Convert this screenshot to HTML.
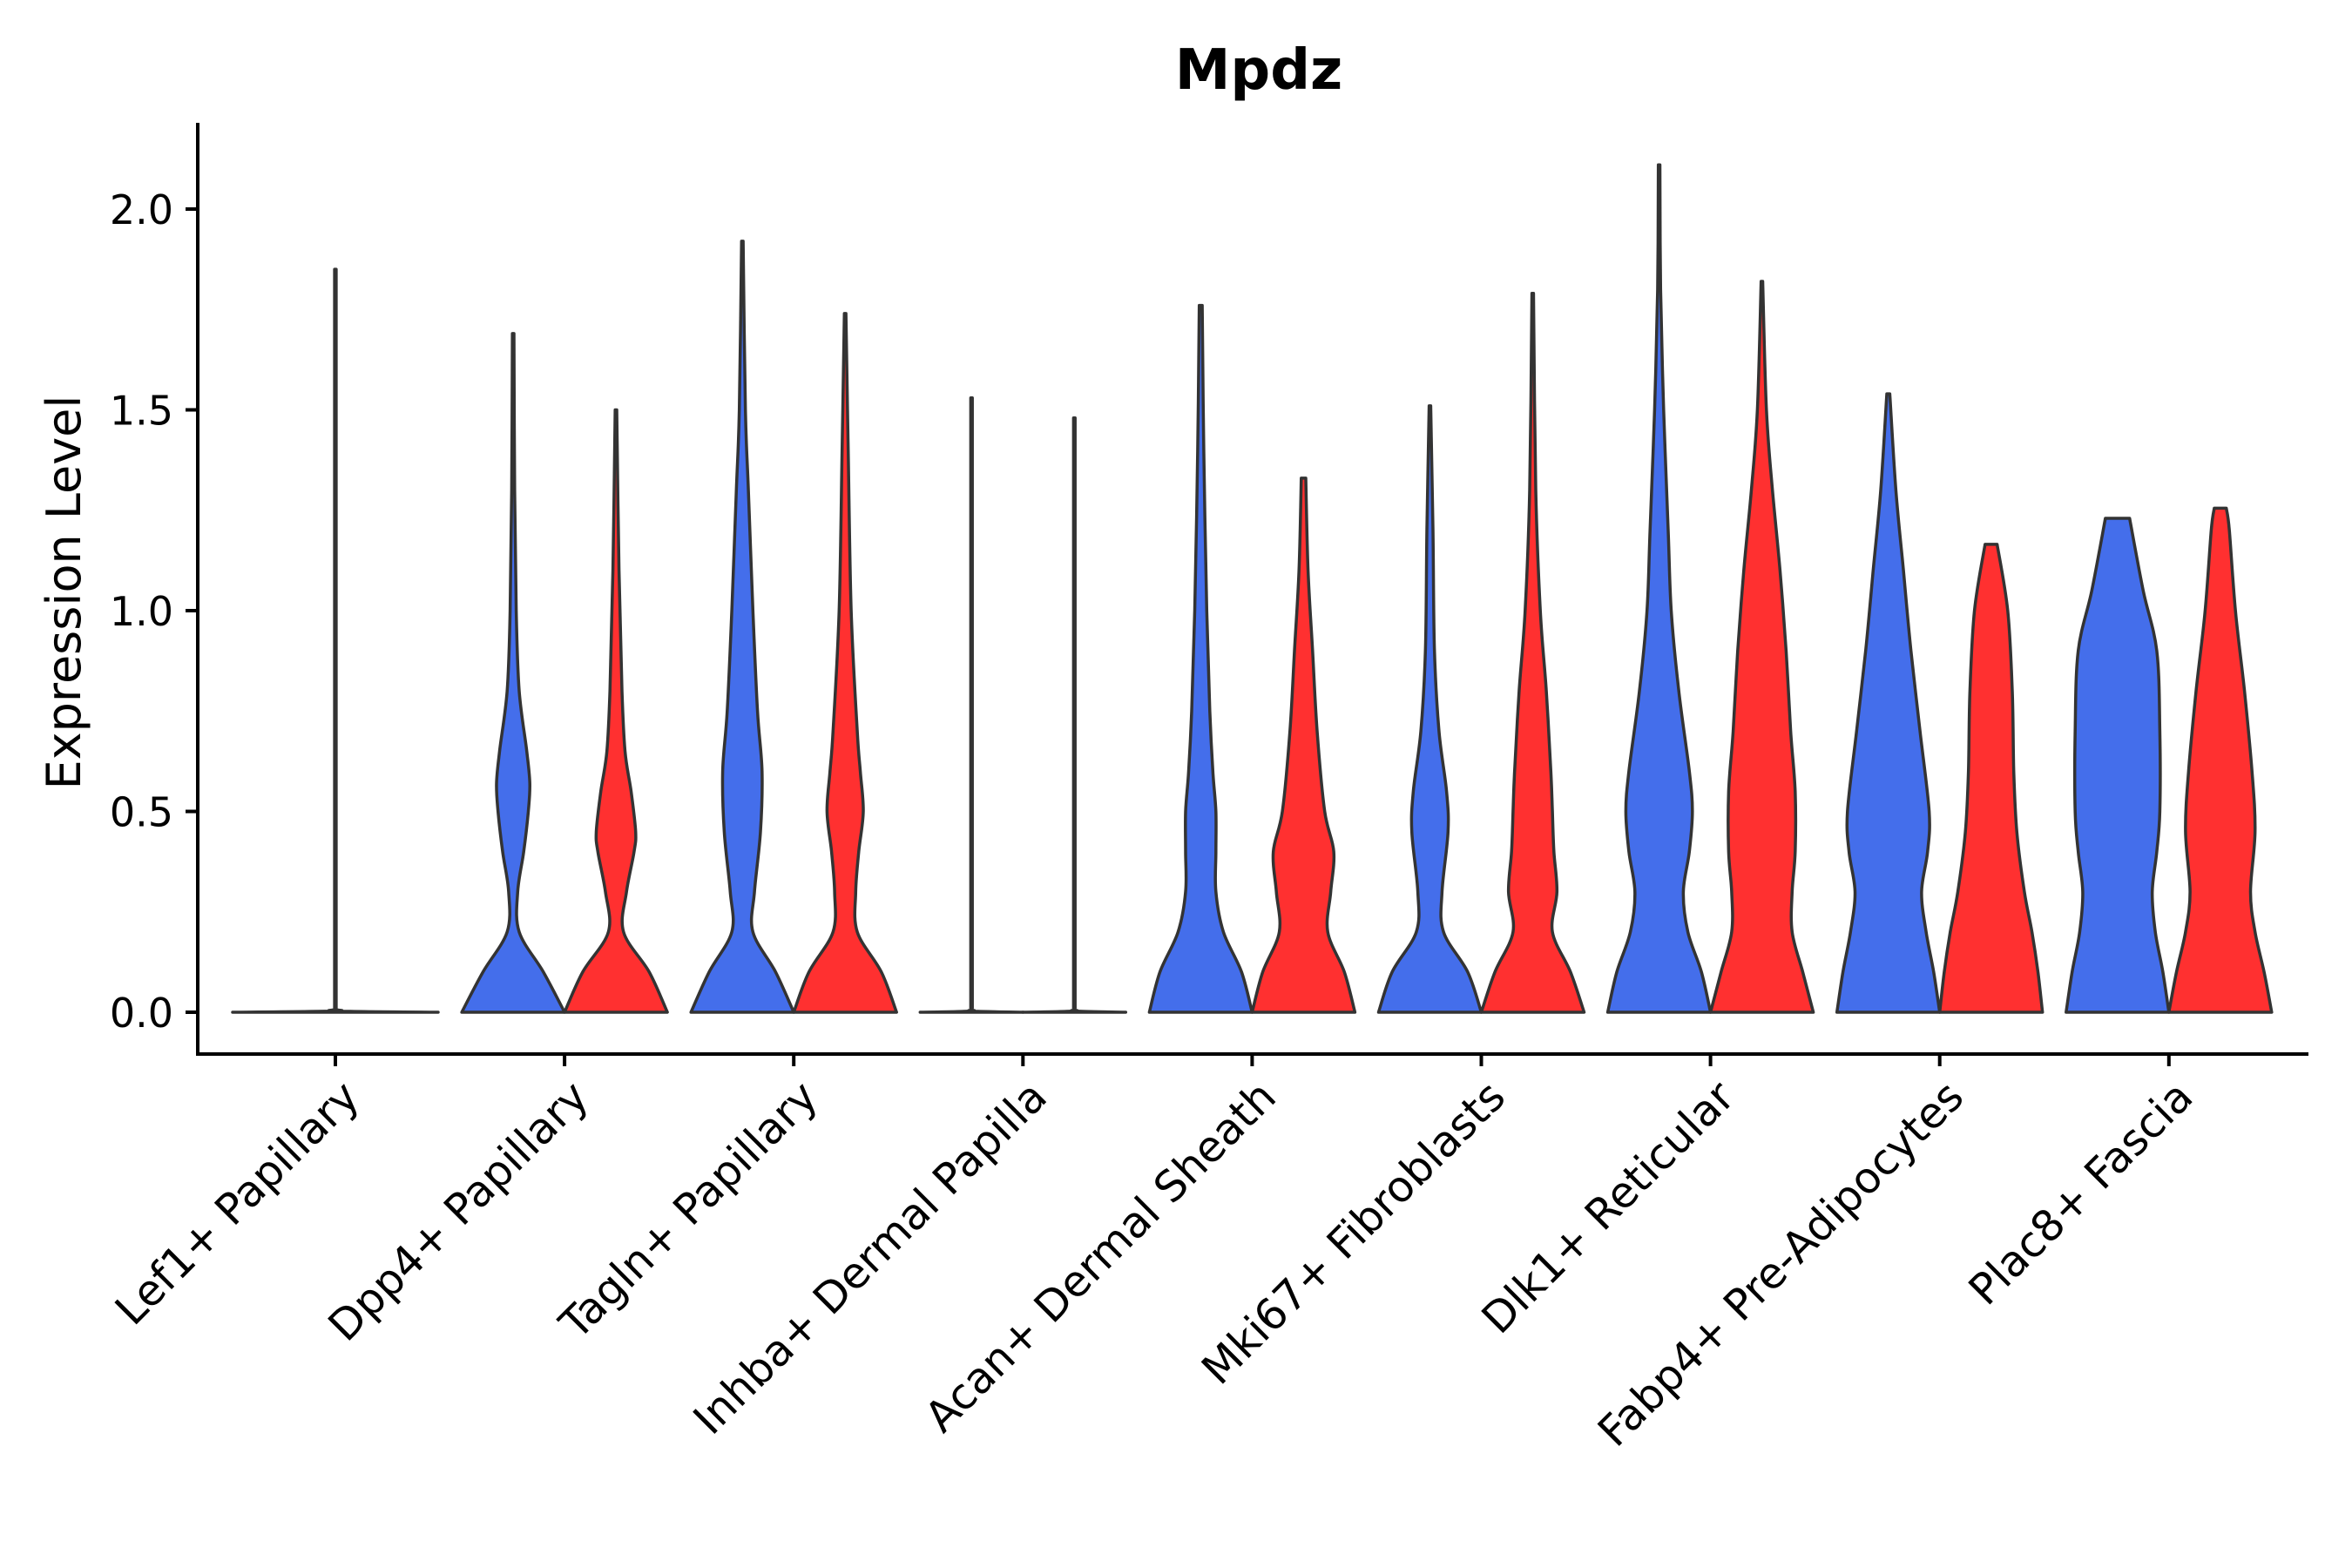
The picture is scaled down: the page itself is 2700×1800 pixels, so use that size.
<!DOCTYPE html>
<html><head><meta charset="utf-8"><style>
html,body{margin:0;padding:0;background:#fff;}
svg{display:block;font-family:"DejaVu Sans","Liberation Sans",sans-serif;}
</style></head><body>
<svg id="chart" width="2700" height="1800" viewBox="0 0 2700 1800" xmlns="http://www.w3.org/2000/svg">
<text x="1445" y="102" text-anchor="middle" font-size="64" font-weight="bold" fill="#000">Mpdz</text>
<text transform="translate(92,680) rotate(-90)" text-anchor="middle" font-size="54" fill="#000">Expression Level</text>
<g id="marks"></g>
<g id="axes"></g>
</svg>
<script>
const categories = ["Lef1+ Papillary","Dpp4+ Papillary","Tagln+ Papillary","Inhba+ Dermal Papilla","Acan+ Dermal Sheath","Mki67+ Fibroblasts","Dlk1+ Reticular","Fabp4+ Pre-Adipocytes","Plac8+ Fascia"];
const yTicks = [0, 0.5, 1.0, 1.5, 2.0];
const yTickLabels = ["0.0","0.5","1.0","1.5","2.0"];
// density profiles: [expression level, relative half-width (max 34)]
const blueProfiles = [
  null,
  [[0,34],[0.1,20],[0.2,4],[0.3,3],[0.4,7],[0.5,10],[0.57,11],[0.65,9],[0.8,4],[1.0,2],[1.3,1],[1.69,0.5]],
  [[0,34],[0.1,22],[0.2,7],[0.3,8],[0.45,12],[0.6,13],[0.75,10],[1.0,7],[1.3,4],[1.5,2],[1.92,0.5]],
  [[0,34],[0.003,0.5],[0.01,0.5],[1.52,0.5],[1.53,0.5]],
  [[0,34],[0.1,27],[0.2,15],[0.3,10],[0.4,10],[0.5,10],[0.6,8],[0.75,6],[1.0,4],[1.4,2],[1.76,1]],
  [[0,34],[0.1,25],[0.2,9],[0.3,8],[0.45,12],[0.55,11],[0.7,6],[0.9,3],[1.2,2],[1.51,0.5]],
  [[0,34],[0.1,28],[0.2,19],[0.3,16],[0.4,20],[0.5,22],[0.6,20],[0.8,13],[1.0,8],[1.2,6],[1.5,3],[1.8,1],[2.11,0.5]],
  [[0,34],[0.1,30],[0.2,25],[0.3,22],[0.4,26],[0.5,27],[0.7,21],[0.9,15],[1.1,10],[1.3,5],[1.54,1]],
  [[0,34],[0.1,30],[0.2,25],[0.3,23],[0.4,26],[0.5,28],[0.7,28],[0.9,26],[1.05,17],[1.23,8]]
];
const redProfiles = [
  null,
  [[0,34],[0.1,22],[0.2,5],[0.3,7],[0.4,12],[0.45,13],[0.55,10],[0.65,6],[0.8,4],[1.1,2],[1.5,0.5]],
  [[0,34],[0.1,24],[0.2,8],[0.3,7],[0.4,9],[0.5,12],[0.6,10],[0.7,8],[1.0,4],[1.4,2],[1.74,0.5]],
  [[0,34],[0.003,0.5],[0.01,0.5],[1.47,0.5],[1.48,0.5]],
  [[0,34],[0.1,27],[0.2,16],[0.3,18],[0.4,20],[0.5,14],[0.7,9],[0.9,6],[1.1,3],[1.33,1.5]],
  [[0,34],[0.1,25],[0.2,13],[0.3,16],[0.4,14],[0.5,13],[0.6,12],[0.8,9],[1.0,5],[1.3,2],[1.79,0.5]],
  [[0,34],[0.1,27],[0.2,20],[0.3,20],[0.4,22],[0.55,22],[0.7,19],[0.9,16],[1.1,12],[1.3,7],[1.5,3],[1.82,0.5]],
  [[0,34],[0.1,31],[0.2,27],[0.3,22],[0.45,17],[0.6,15],[0.8,14],[1.0,11],[1.165,4]],
  [[0,34],[0.1,29],[0.2,23],[0.3,20],[0.45,23],[0.6,21],[0.8,16],[1.0,10],[1.2,6],[1.255,4]]
];
const singleProfiles = [
  [[0,68],[0.003,0.5],[0.01,0.5],[1.84,0.5],[1.85,0.5]],
  null,null,null,null,null,null,null,null
];

const NS = "http://www.w3.org/2000/svg";
const X0 = 227, X1 = 2650, Y_AXIS = 1210;
const yScale = v => 1162 - v * 461;
const xScale = i => 385 + i * 263.1;
const wScale = w => w / 34 * 59;
const OFF = 59;

function violinPath(cx, prof) {
  const left = prof.map(p => [cx - wScale(p[1]), yScale(p[0])]);
  const right = prof.slice().reverse().map(p => [cx + wScale(p[1]), yScale(p[0])]);
  function clampY(y, a, b) { const lo = Math.min(a, b), hi = Math.max(a, b); return Math.max(lo, Math.min(hi, y)); }
  function clampX(x, a, b) { const lo = Math.min(a, b), hi = Math.max(a, b); return Math.max(lo, Math.min(hi, x)); }
  function seg(arr) {
    let d = "";
    for (let i = 0; i < arr.length - 1; i++) {
      const p0 = arr[Math.max(0, i - 1)], p1 = arr[i], p2 = arr[i + 1], p3 = arr[Math.min(arr.length - 1, i + 2)];
      let c1 = [p1[0] + (p2[0] - p0[0]) / 6, clampY(p1[1] + (p2[1] - p0[1]) / 6, p1[1], p2[1])];
      let c2 = [p2[0] - (p3[0] - p1[0]) / 6, clampY(p2[1] - (p3[1] - p1[1]) / 6, p1[1], p2[1])];
      const big = Math.abs(p2[0] - p1[0]) > 40 && Math.abs(p2[1] - p1[1]) < 5;
      if (big) { c1 = [clampX(c1[0], p1[0], p2[0]), c1[1]]; c2 = [clampX(c2[0], p1[0], p2[0]), c2[1]]; }
      d += ` C${c1[0].toFixed(1)},${c1[1].toFixed(1)} ${c2[0].toFixed(1)},${c2[1].toFixed(1)} ${p2[0].toFixed(1)},${p2[1].toFixed(1)}`;
    }
    return d;
  }
  let d = `M${left[0][0].toFixed(1)},${left[0][1].toFixed(1)}` + seg(left);
  d += ` L${right[0][0].toFixed(1)},${right[0][1].toFixed(1)}` + seg(right) + " Z";
  return d;
}

const marks = document.getElementById("marks");
function addViolin(cx, prof, fill, name) {
  const p = document.createElementNS(NS, "path");
  p.setAttribute("d", violinPath(cx, prof));
  p.setAttribute("fill", fill);
  p.setAttribute("stroke", "#333");
  p.setAttribute("stroke-width", "3.5");
  p.setAttribute("stroke-linejoin", "round");
  
  
  marks.appendChild(p);
}
categories.forEach((c, i) => {
  const cx = xScale(i);
  if (singleProfiles[i]) addViolin(cx, singleProfiles[i], "#4169E1", "violin-" + i + "-single");
  if (blueProfiles[i]) addViolin(cx - OFF, blueProfiles[i], "#446EEB", "violin-" + i + "-blue");
  if (redProfiles[i]) addViolin(cx + OFF, redProfiles[i], "#FF3030", "violin-" + i + "-red");
});

const axes = document.getElementById("axes");
function line(x1, y1, x2, y2, name) {
  const l = document.createElementNS(NS, "line");
  l.setAttribute("x1", x1); l.setAttribute("y1", y1); l.setAttribute("x2", x2); l.setAttribute("y2", y2);
  l.setAttribute("stroke", "#000"); l.setAttribute("stroke-width", "4");
  
  
  axes.appendChild(l);
}
function text(x, y, s, attrs, name) {
  const t = document.createElementNS(NS, "text");
  t.setAttribute("x", x); t.setAttribute("y", y);
  for (const k in attrs) t.setAttribute(k, attrs[k]);
  t.textContent = s;
  
  
  axes.appendChild(t);
}
line(X0, 141, X0, Y_AXIS + 2, "y-axis-line");
line(X0 - 2, Y_AXIS, X1, Y_AXIS, "x-axis-line");
yTicks.forEach((v, i) => {
  const y = yScale(v);
  line(X0 - 14, y, X0, y, "y-tick");
  text(X0 - 28, y + 17, yTickLabels[i], {"text-anchor": "end", "font-size": "46", fill: "#000"}, "y-tick-label");
});
categories.forEach((c, i) => {
  const x = xScale(i);
  line(x, Y_AXIS, x, Y_AXIS + 14, "x-tick");
  text(0, 0, c, {"text-anchor": "end", "font-size": "49", fill: "#000",
    transform: `translate(${x + 30},${Y_AXIS + 52}) rotate(-45)`}, "x-tick-label");
});
</script>
</body></html>
